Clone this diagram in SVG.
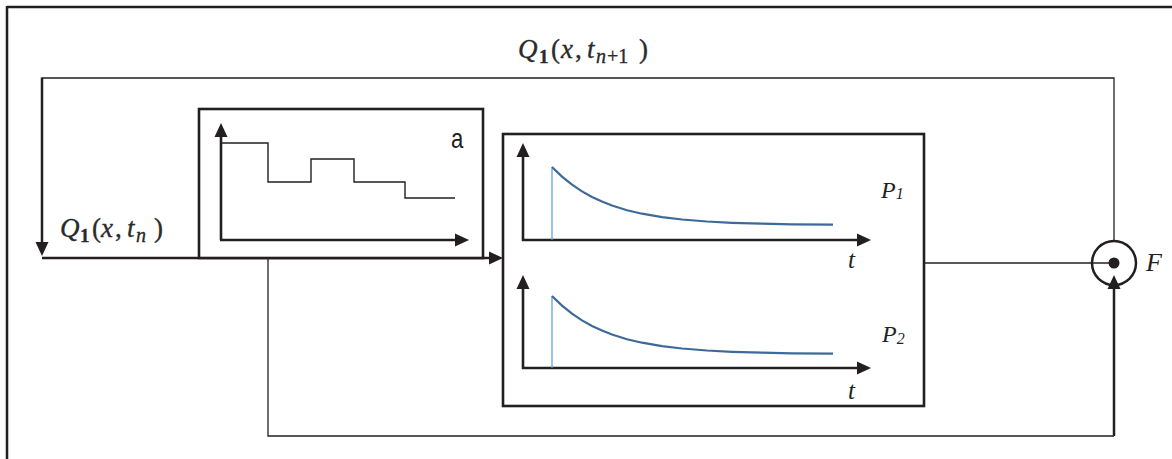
<svg xmlns="http://www.w3.org/2000/svg" width="1172" height="459" viewBox="0 0 1172 459">
<style>
.thick{fill:none;stroke:#231f20;stroke-width:2.5}
.thin{fill:none;stroke:#231f20;stroke-width:1.3}
.box{fill:#fff;stroke:#231f20;stroke-width:2.6}
.ax{fill:none;stroke:#231f20;stroke-width:2.6}
.step{fill:none;stroke:#231f20;stroke-width:1.4}
.curve{fill:none;stroke:#3d6a98;stroke-width:2.2}
.pulse{fill:none;stroke:#5b9bd5;stroke-width:1.2}
.head{fill:#231f20}
.math{font-family:'Liberation Serif','DejaVu Serif',serif;font-style:italic;fill:#2a2a2a;stroke:#2a2a2a;stroke-width:0.35}
.up{font-style:normal}
.lbl{font-family:'Liberation Serif','DejaVu Serif',serif;font-style:italic;fill:#231f20}
.sans{font-family:'Liberation Sans',Arial,sans-serif;fill:#231f20}
</style>
<defs>
<polygon id="hr" points="0,0 -14,-6.5 -14,6.5" class="head"/>
<polygon id="hu" points="0,0 -6.5,14 6.5,14" class="head"/>
<polygon id="hd" points="0,0 -6.5,-14 6.5,-14" class="head"/>
<path id="decay" d="M552,167 L562,176.6 L572,184.7 L582,191.4 L592,197 L602,201.6 L612,205.5 L627,210.2 L642,213.7 L662,217.2 L682,219.5 L707,221.5 L732,222.8 L762,223.7 L792,224.3 L833,224.7" class="curve"/>
</defs>

<g id="frame">
<line x1="7" y1="7" x2="1172" y2="7" class="thick" stroke-width="2"/>
<line x1="7" y1="6" x2="7" y2="459" class="thick"/>
</g>

<g id="connectors">
<polyline points="1114,241 1114,78 42,78" class="thin"/>
<line x1="42" y1="77.5" x2="42" y2="244" class="thick"/>
<use href="#hd" x="42" y="256"/>
<line x1="42" y1="258" x2="492" y2="258" class="thick"/>
<use href="#hr" x="503" y="258"/>
<polyline points="268,258 268,436 1114,436" class="thin"/>
<line x1="1114" y1="436" x2="1114" y2="288" class="thick"/>
<use href="#hu" x="1114" y="275"/>
<line x1="924" y1="263" x2="1114" y2="263" class="thin"/>
</g>

<g id="node-a">
<rect x="199" y="109" width="284" height="149" class="box"/>
<line x1="221" y1="240" x2="221" y2="135" class="ax"/>
<use href="#hu" x="221" y="123"/>
<line x1="220" y1="240" x2="456" y2="240" class="ax"/>
<use href="#hr" x="469" y="240"/>
<polyline points="222,143 268,143 268,182 311,182 311,159 354,159 354,182 405,182 405,198 455,198" class="step"/>
<text x="0" y="148" class="sans" font-size="27" transform="translate(451 0) scale(0.82 1)">a</text>
</g>

<g id="node-P">
<rect x="503" y="134" width="421" height="272" class="box"/>
<line x1="523" y1="241" x2="523" y2="155" class="ax"/>
<use href="#hu" x="523" y="143"/>
<line x1="522" y1="240" x2="858" y2="240" class="ax"/>
<use href="#hr" x="871" y="240"/>
<line x1="552" y1="240" x2="552" y2="167" class="pulse"/>
<use href="#decay"/>
<text x="881" y="198" class="lbl" font-size="24">P<tspan font-size="16" dy="1">1</tspan></text>
<text x="848" y="268" class="lbl" font-size="25">t</text>
<line x1="523" y1="369" x2="523" y2="287" class="ax"/>
<use href="#hu" x="523" y="275"/>
<line x1="522" y1="368" x2="858" y2="368" class="ax"/>
<use href="#hr" x="871" y="368"/>
<line x1="552" y1="368" x2="552" y2="296" class="pulse"/>
<use href="#decay" transform="translate(0 129)"/>
<text x="882" y="342" class="lbl" font-size="24">P<tspan font-size="16" dy="2">2</tspan></text>
<text x="848" y="399" class="lbl" font-size="25">t</text>
</g>

<g id="node-F">
<circle cx="1114" cy="263" r="22" fill="none" stroke="#231f20" stroke-width="2.5"/>
<circle cx="1114" cy="263" r="5.5" fill="#231f20"/>
<text x="1146" y="271" class="lbl" font-size="26">F</text>
</g>

<g id="label-top">
<text y="58" class="math" font-size="27"><tspan x="518">Q</tspan><tspan x="539" y="63" class="up" font-size="19" font-weight="bold">1</tspan><tspan x="551" y="58" class="up">(</tspan><tspan x="561">x</tspan><tspan x="575" class="up">,</tspan><tspan x="587">t</tspan><tspan x="596" y="63" font-size="20">n</tspan><tspan class="up" font-size="20" dx="1">+1</tspan><tspan x="639" y="58" class="up">)</tspan></text>
</g>

<g id="label-left">
<text y="237" class="math" font-size="27"><tspan x="60">Q</tspan><tspan x="80" y="242" class="up" font-size="19" font-weight="bold">1</tspan><tspan x="92" y="237" class="up">(</tspan><tspan x="101">x</tspan><tspan x="115" class="up">,</tspan><tspan x="127">t</tspan><tspan x="136" y="242" font-size="20">n</tspan><tspan x="154" y="237" class="up">)</tspan></text>
</g>
</svg>
